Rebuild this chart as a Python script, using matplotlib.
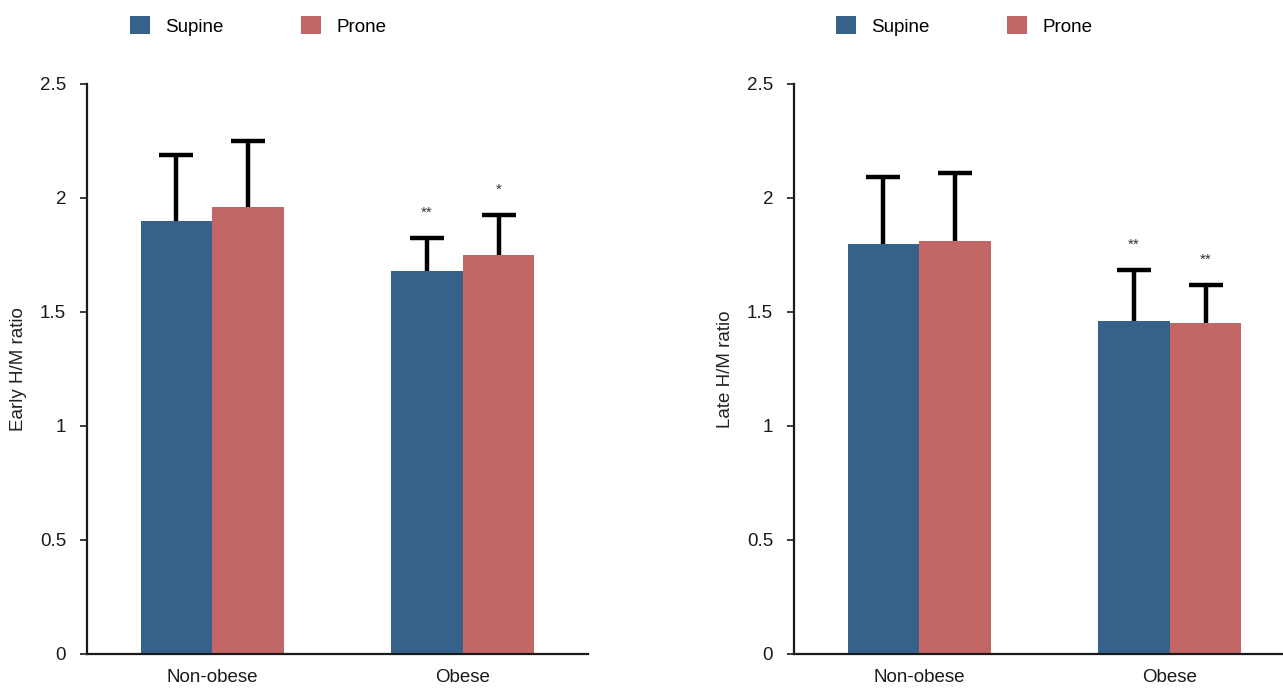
import matplotlib
matplotlib.use("Agg")
from matplotlib import pyplot as plt
import numpy as np

plt.rcParams["font.family"] = ["Liberation Sans", "DejaVu Sans"]

groups = ["Non-obese", "Obese"]
positions = ["Supine", "Prone"]
colors = ["#36618b", "#c26765"]

early_mean = {"Supine": [1.90, 1.68], "Prone": [1.96, 1.75]}
early_sd = {"Supine": [0.29, 0.145], "Prone": [0.29, 0.175]}
early_marks = {"Supine": ["", "**"], "Prone": ["", "*"]}

late_mean = {"Supine": [1.80, 1.46], "Prone": [1.81, 1.45]}
late_sd = {"Supine": [0.29, 0.225], "Prone": [0.30, 0.17]}
late_marks = {"Supine": ["", "**"], "Prone": ["", "**"]}

yticks = [0, 0.5, 1, 1.5, 2, 2.5]
yticklabels = ["0", "0.5", "1", "1.5", "2", "2.5"]

fig = plt.figure(figsize=(12.83, 6.88), dpi=100)

W, H = 1283, 688
panels = [
    (87, "Early H/M ratio", early_mean, early_sd, early_marks, 130),
    (794, "Late H/M ratio", late_mean, late_sd, late_marks, 836),
]

bar_w = 0.286
x = np.arange(len(groups))

for left_px, ylabel, means, sds, marks, leg_px in panels:
    ax = fig.add_axes([left_px / W, 1 - 654 / H, 501 / W, 570 / H])
    handles = []
    for i, pos in enumerate(positions):
        xs = x + (i - 0.5) * bar_w
        m = np.array(means[pos])
        top = m + np.array(sds[pos])
        b = ax.bar(xs, m, width=bar_w, color=colors[i], label=pos, zorder=2)
        handles.append(b)
        # upper-only error bars: stem + cap
        ax.vlines(xs, m, top, color="black", linewidth=3.2, zorder=1)
        ax.plot(xs, top, linestyle="none", marker="_", markersize=25,
                markeredgewidth=3.2, color="black", zorder=1)
        for xx, tt, t in zip(xs, top, marks[pos]):
            if t:
                ax.text(xx, tt + 0.08, t, ha="center", va="bottom",
                        fontsize=11, color="#333333")
    ax.set_xlim(-0.5, 1.5)
    ax.set_ylim(0, 2.5)
    ax.set_yticks(yticks)
    ax.set_yticklabels(yticklabels)
    ax.set_xticks(x)
    ax.set_xticklabels(groups)
    ax.spines["top"].set_visible(False)
    ax.spines["right"].set_visible(False)
    for s in ["left", "bottom"]:
        ax.spines[s].set_linewidth(1.6)
        ax.spines[s].set_color("#1a1a1a")
    ax.tick_params(axis="y", length=5, width=1.2, labelsize=13.5, pad=10, colors="#1a1a1a")
    ax.tick_params(axis="x", length=0, labelsize=13.5, pad=11, colors="#1a1a1a")
    ax.set_ylabel(ylabel, fontsize=13.5, labelpad=9, color="#222222")
    ax.legend(handles=handles, labels=positions, ncol=2, frameon=False,
              loc="center left", bbox_to_anchor=(leg_px / W, 1 - 26 / H),
              bbox_transform=fig.transFigure, borderaxespad=0, borderpad=0,
              handlelength=1.07, handleheight=1.07, handletextpad=0.8,
              columnspacing=4.15, fontsize=13.5)

fig.savefig("out.png", dpi=100)
